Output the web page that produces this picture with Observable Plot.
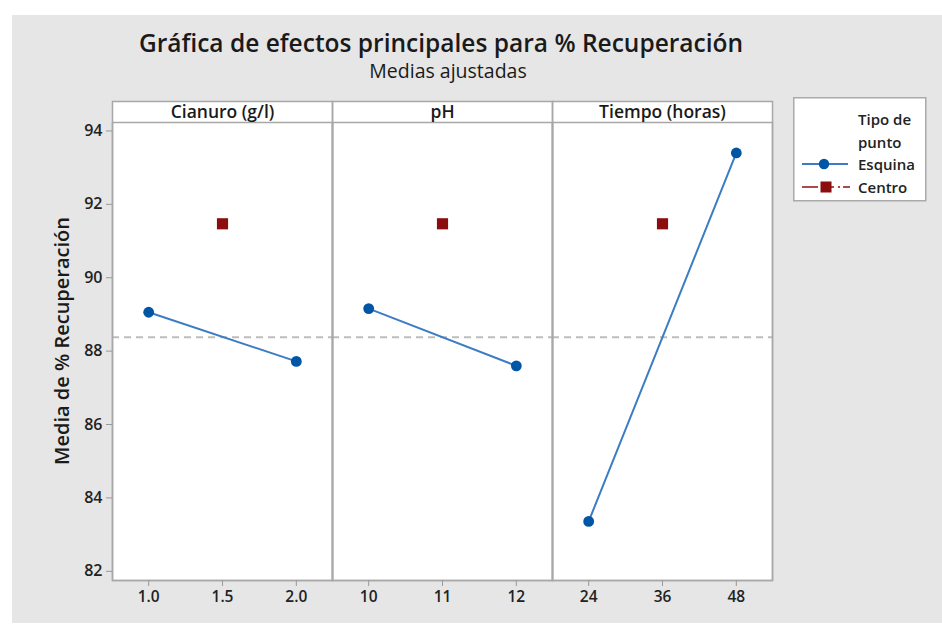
<!DOCTYPE html>
<html>
<head>
<meta charset="utf-8">
<script src="https://cdn.jsdelivr.net/npm/d3@7"></script>
<script src="https://cdn.jsdelivr.net/npm/@observablehq/plot@0.6"></script>
<style>
  body { margin: 0; background: #fff; font-family: "Open Sans", sans-serif; }
  #wrap { position: absolute; left: 12px; top: 15px; width: 930px; height: 608px; background: #e6e6e6; overflow: hidden; }
  #title { position: absolute; left: 0; top: 13px; width: 858px; text-align: center; font-size: 24.5px; font-weight: 600; color: #1a1a1a; line-height: 30px; }
  #subtitle { position: absolute; left: 0; top: 44px; width: 872px; text-align: center; font-size: 19.5px; font-weight: 400; color: #1a1a1a; line-height: 24px; }
  #chart { position: absolute; left: 0; top: 0; }
  #legend { position: absolute; left: 781px; top: 82px; }
</style>
</head>
<body>
<div id="wrap">
  <div id="chart"></div>
  <div id="title">Gráfica de efectos principales para % Recuperación</div>
  <div id="subtitle">Medias ajustadas</div>
  <svg id="legend" width="134" height="106" font-family="Open Sans, sans-serif">
    <rect x="0.75" y="0.75" width="132" height="103" fill="#fff" stroke="#aaaaaa" stroke-width="1.5"></rect>
    <text x="65" y="28" font-size="15" font-weight="600" fill="#222">Tipo de</text>
    <text x="65" y="51" font-size="15" font-weight="600" fill="#222">punto</text>
    <line x1="9" y1="67" x2="55" y2="67" stroke="#3c7cc4" stroke-width="2"></line>
    <circle cx="31" cy="67" r="5.2" fill="#0055a4"></circle>
    <text x="65" y="73" font-size="15" font-weight="600" fill="#222">Esquina</text>
    <line x1="9" y1="90" x2="57" y2="90" stroke="#b04a4a" stroke-width="2" stroke-dasharray="16,4,12,4,2,3"></line>
    <rect x="27.5" y="84.5" width="11" height="11" fill="#8b0d0d"></rect>
    <text x="65" y="96" font-size="15" font-weight="600" fill="#222">Centro</text>
  </svg>
</div>
<script>
// ---- data ----
const factors = ["Cianuro (g/l)", "pH", "Tiempo (horas)"];
const levelLabels = [["1.0", "1.5", "2.0"], ["10", "11", "12"], ["24", "36", "48"]];
const lowMeans = [89.06, 89.16, 83.36];     // corner points, low level
const highMeans = [87.72, 87.60, 93.40];    // corner points, high level
const centerMeans = [91.47, 91.47, 91.47];  // center points
const grandMean = 88.38;
const yTicks = [82, 84, 86, 88, 90, 92, 94];
const yLabel = "Media de % Recuperación";
const codedLevels = [-1, 0, 1];

// ---- tables built from the arrays ----
const corner = factors.flatMap((f, i) => [
  {factor: f, coded: codedLevels[0], value: lowMeans[i]},
  {factor: f, coded: codedLevels[2], value: highMeans[i]}
]);
const center = factors.map((f, i) => ({factor: f, coded: codedLevels[1], value: centerMeans[i]}));
const tickRows = factors.flatMap((f, i) => levelLabels[i].map((lab, j) => ({factor: f, coded: codedLevels[j], label: lab})));

const yDomain = [81.75, 94.23];

const chart = Plot.plot({
  width: 930,
  height: 608,
  marginLeft: 100,
  marginRight: 170,
  marginTop: 86,
  marginBottom: 43,
  style: {background: "transparent", fontFamily: "Open Sans, sans-serif", color: "#222", overflow: "visible"},
  fx: {domain: factors, padding: 0, axis: null},
  x: {domain: [-1.49, 1.49], axis: null},
  y: {domain: yDomain, range: [565, 107], axis: null},
  marks: [
    Plot.frame({fill: "white"}),
    Plot.ruleY([grandMean], {stroke: "#bdbdbd", strokeWidth: 2, strokeDasharray: "7,5"}),
    Plot.line(corner, {fx: "factor", x: "coded", y: "value", z: "factor", stroke: "#3c7cc4", strokeWidth: 2}),
    Plot.dot(corner, {fx: "factor", x: "coded", y: "value", r: 5.4, fill: "#0055a4"}),
    Plot.dot(center, {fx: "factor", x: "coded", y: "value", r: 6.3, symbol: "square", fill: "#8b0d0d"}),
    Plot.frame({stroke: "#a8a8a8", strokeWidth: 1.5}),
    Plot.frame({stroke: "#a8a8a8", strokeWidth: 1.5, insetTop: 21}),
    Plot.text(factors, {fx: d => d, text: d => d, frameAnchor: "top", lineAnchor: "middle", dy: 11, fontSize: 17.5, fontWeight: 600, fill: "#1a1a1a"}),
    Plot.ruleX(tickRows, {fx: "factor", x: "coded", y1: yDomain[0], y2: yDomain[0], insetBottom: -6, stroke: "#999"}),
    Plot.text(tickRows, {fx: "factor", x: "coded", text: "label", frameAnchor: "bottom", lineAnchor: "top", dy: 10, fontSize: 15.5, fontWeight: 600, fill: "#222"}),
    Plot.axisY(yTicks, {tickSize: 6, tickPadding: 4, fontSize: 16, fontWeight: 600, stroke: "#999", fill: "#222", label: null}),
    Plot.text([factors[0]], {fx: d => d, frameAnchor: "left", textAnchor: "middle", lineAnchor: "middle", text: () => yLabel, rotate: -90, dx: -50, fontSize: 20, fontWeight: 600, fill: "#1a1a1a"})
  ]
});
document.getElementById("chart").appendChild(chart);
</script>
</body>
</html>
